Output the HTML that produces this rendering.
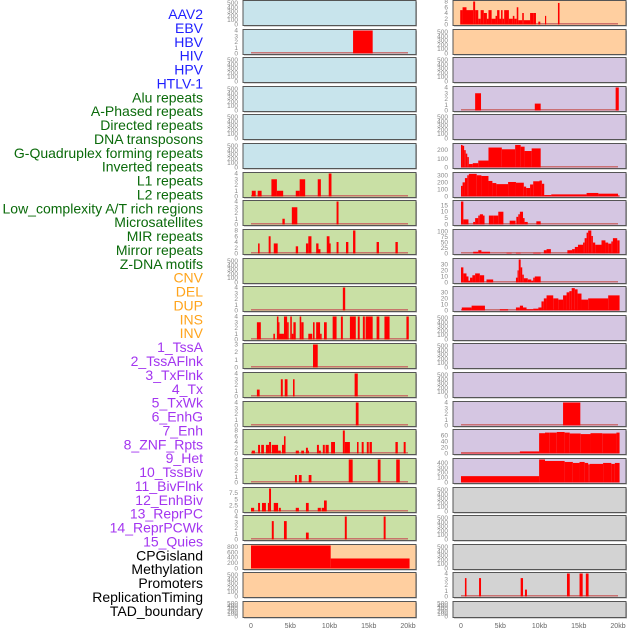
<!DOCTYPE html>
<html><head><meta charset="utf-8">
<style>
html,body{margin:0;padding:0;background:#fff;}
svg{display:block;font-family:"Liberation Sans",sans-serif;}
</style></head>
<body>
<svg id="chart" width="630" height="630" viewBox="0 0 630 630" xmlns="http://www.w3.org/2000/svg"></svg>
<script>
// ---- track labels ----
const trackLabels = ["AAV2","EBV","HBV","HIV","HPV","HTLV-1","Alu repeats","A-Phased repeats","Directed repeats","DNA transposons","G-Quadruplex forming repeats","Inverted repeats","L1 repeats","L2 repeats","Low_complexity A/T rich regions","Microsatellites","MIR repeats","Mirror repeats","Z-DNA motifs","CNV","DEL","DUP","INS","INV","1_TssA","2_TssAFlnk","3_TxFlnk","4_Tx","5_TxWk","6_EnhG","7_Enh","8_ZNF_Rpts","9_Het","10_TssBiv","11_BivFlnk","12_EnhBiv","13_ReprPC","14_ReprPCWk","15_Quies","CPGisland","Methylation","Promoters","ReplicationTiming","TAD_boundary"];
const labelGroups = ["v","v","v","v","v","v","r","r","r","r","r","r","r","r","r","r","r","r","r","s","s","s","s","s","c","c","c","c","c","c","c","c","c","c","c","c","c","c","c","o","o","o","o","o"];
const xTickValues = [0,5,10,15,20];
const xTickLabels = ["0","5kb","10kb","15kb","20kb"];
// ---- per-track data: [startKb, endKb, value] ----
const ebvBins = [[13.0,15.5,4]];
const aluBins = [[0.1,0.6,1],[0.85,1.35,1],[2.6,3.3,3],[3.3,4.1,1],[5.7,6.2,1],[6.2,6.9,3],[8.5,8.9,3],[9.9,10.25,4]];
const aphasedBins = [[4.0,4.3,1],[5.2,5.9,3],[10.9,11.15,4]];
const directedBins = [[0.9,1.1,3.5],[2.25,2.5,6],[2.9,3.4,3.5],[5.7,6.0,2.5],[7.0,7.3,3.5],[7.3,7.7,6],[8.3,8.6,3.5],[8.6,8.85,1.5],[9.65,10.0,6],[10.0,10.15,3.5],[10.9,11.15,4],[12.1,12.4,4],[13.0,13.3,8],[16.0,16.3,4],[18.4,18.7,4]];
const gquadBins = [[11.7,12.0,4]];
const invertedBins = [[0.75,1.25,3],[2.85,3.05,1],[3.3,3.5,4],[3.5,3.6,3],[3.6,4.2,1],[4.2,4.6,4],[4.6,4.8,3],[5.0,5.2,4],[5.2,5.4,1],[5.4,5.7,3],[6.2,6.4,4],[6.4,6.7,3],[7.3,7.8,1],[7.9,8.1,3],[8.3,8.8,3],[8.8,9.0,1],[9.3,9.65,3],[10.4,10.9,4],[11.45,11.7,4],[12.6,13.35,4],[13.6,13.85,4],[14.25,14.5,4],[14.6,15.5,4],[16.0,16.35,4],[17.0,17.65,4],[19.8,20.1,4]];
const l1Bins = [[7.9,8.5,3]];
const l2Bins = [[0.75,1.1,1.2],[3.8,4.05,3],[4.3,4.65,3],[5.35,5.55,3],[13.2,13.6,4]];
const lowcxBins = [[13.35,13.7,4]];
const microsatBins = [[0.1,0.5,1],[0.9,1.15,3],[1.3,1.65,3],[1.9,2.3,3],[2.3,2.55,4],[2.65,3.45,3],[3.45,3.8,1],[3.95,4.2,3],[4.2,4.4,6],[5.7,6.1,1],[6.4,6.75,1],[7.0,7.25,2],[7.25,7.35,1],[8.4,8.65,3],[8.65,8.9,1],[9.15,9.4,3],[9.5,9.9,3],[10.2,10.7,4],[11.7,11.95,8],[11.95,12.6,4],[13.5,13.7,4],[14.1,14.35,4],[14.75,15.0,4],[15.1,15.4,4],[18.4,18.7,4],[19.45,19.7,4]];
const mirBins = [[5.6,5.85,1.3],[6.1,6.45,1.3],[7.35,7.7,1.3],[12.45,12.95,4],[16.15,16.5,4],[18.5,18.95,4]];
const mirrorBins = [[0,0.4,1.5],[0.9,1.15,3.5],[1.4,1.9,3.5],[2.15,2.3,3.5],[2.3,2.55,9.4],[2.9,3.45,3.5],[3.55,3.8,1.5],[5.7,6.1,1.5],[7.0,7.35,3.5],[8.5,8.9,1.5],[9.0,9.3,1.5],[9.3,9.65,4.5]];
const zdnaBins = [[2.65,2.9,3.2],[4.2,4.55,3.2],[7.0,7.35,1.2],[11.95,12.2,4],[16.9,17.15,4]];
const cnvBins = [[0,10.15,850],[10.15,20.2,370]];
const insBins = [[-0.1,0.2,5],[0.2,0.7,6],[0.7,1.55,5],[1.55,1.8,8],[1.8,2.2,5],[2.2,2.5,2],[2.5,2.9,5],[2.9,3.3,4],[3.3,3.5,2],[3.5,3.9,5],[3.9,4.4,2],[4.4,4.6,3],[4.6,4.9,5],[4.9,5.1,2],[5.1,5.3,5],[5.3,5.5,2],[5.5,6.1,5],[6.1,6.6,2],[6.6,6.8,3],[6.8,7.1,2],[7.1,7.3,6],[7.3,7.8,1.5],[7.8,8.0,4],[8.0,8.8,1.5],[8.8,9.2,4],[9.2,9.55,4],[9.85,10.1,1],[10.7,10.85,3],[12.35,12.55,7.5]];
const tssaflnkBins = [[1.8,2.55,3],[9.4,10.15,1.2],[19.7,20.1,4]];
const txwkBins = [[0,0.2,260],[0.2,0.4,250],[0.4,0.6,200],[0.6,0.8,160],[0.8,1.0,120],[1.0,1.5,40],[1.5,2.2,50],[2.2,3.5,80],[3.5,5.2,230],[5.2,6.9,210],[6.9,7.6,260],[7.6,8.1,240],[8.1,9.0,190],[9.0,10.15,220]];
const enhgBins = [[0,0.2,150],[0.2,0.5,200],[0.5,0.8,260],[0.8,1.0,300],[1.0,2.0,320],[2.0,2.6,300],[2.6,3.5,290],[3.5,4.0,220],[4.0,4.5,190],[4.5,6.0,175],[6.0,7.0,205],[7.0,8.0,195],[8.0,8.3,140],[8.3,8.8,120],[8.8,9.2,170],[9.2,10.0,215],[10.0,10.3,225],[10.3,10.6,180],[10.6,11.5,20],[11.5,16.0,30],[16.0,17.5,50],[17.5,20.0,40],[20.0,20.2,15]];
const enhBins = [[0,0.3,18],[0.3,0.95,4],[1.55,1.8,2],[1.8,2.2,5],[2.2,2.4,7],[2.4,2.8,8],[2.8,3.0,7],[3.55,4.1,7],[4.1,4.75,7],[4.75,5.4,10],[6.2,6.95,3],[7.05,7.3,6],[7.3,7.5,8],[7.5,7.9,10],[7.9,8.1,5],[8.1,8.5,2],[9.6,10.15,2.5]];
const znfBins = [[1.55,2.2,8],[2.2,2.6,15],[2.6,3.7,8],[5.8,6.45,3],[7.0,7.6,3],[9.2,10.15,3],[10.55,10.9,15],[10.9,11.45,20],[13.55,14.15,15],[14.15,14.5,20],[14.5,14.9,30],[14.9,15.55,40],[15.55,15.75,50],[15.75,16.0,70],[16.0,16.2,95],[16.2,16.6,105],[16.6,16.8,80],[16.8,17.1,50],[17.1,17.9,40],[17.9,18.4,60],[18.4,18.75,50],[18.75,19.15,45],[19.15,19.35,55],[19.35,19.9,70],[19.9,20.2,60]];
const hetBins = [[0,0.3,25],[0.3,0.7,15],[0.7,0.95,10],[0.95,1.15,3],[1.15,1.45,8],[1.45,1.8,12],[1.8,2.4,15],[2.4,2.95,12],[3.25,4.1,5],[7.0,7.2,8],[7.2,7.35,20],[7.35,7.6,38],[7.6,7.8,25],[7.8,8.0,13],[8.0,8.5,7],[8.5,8.95,5],[8.95,9.2,3],[9.2,9.4,8],[9.4,10.15,10]];
const tssbivBins = [[0.1,1.35,5],[1.35,3.05,8],[4.95,6.0,2],[7.0,7.5,5],[7.5,7.9,8],[7.9,8.35,5],[8.35,9.2,2],[9.2,9.85,3],[9.85,10.25,5],[10.25,10.55,15],[10.55,10.9,20],[10.9,11.75,25],[11.75,12.4,20],[12.4,13.0,18],[13.0,13.45,25],[13.45,13.8,30],[13.8,14.1,32],[14.1,14.5,37],[14.5,14.85,35],[14.85,15.35,28],[15.35,16.2,18],[16.2,18.75,20],[18.75,20.2,25]];
const reprpcwkBins = [[13.0,15.2,4]];
const quiesBins = [[0,7.5,2],[7.5,9.95,7],[9.95,10.7,68],[10.7,11.3,70],[11.3,12.2,70],[12.2,13.2,72],[13.2,13.85,70],[13.85,15.25,67],[15.25,16.5,65],[16.5,18.0,68],[18.0,19.8,67],[19.8,20.2,70]];
const cpgBins = [[0,9.95,130],[9.95,10.7,470],[10.7,13.2,440],[13.2,14.25,420],[14.25,15.1,400],[15.1,15.75,420],[15.75,16.2,400],[16.2,16.4,370],[16.4,18.1,380],[18.1,19.15,400],[19.15,19.6,380],[19.6,20.2,400]];
const replicationBins = [[0.5,0.7,3.2],[2.3,2.55,3.2],[7.6,7.9,3.2],[8.15,8.4,1.2],[13.5,13.85,4],[15.1,15.5,4],[15.9,16.25,4]];
// y ticks
const ticksEmpty = [0,100,200,300,400,500];
const ticks4 = [0,1,2,3,4];
const ticks3 = [0,1,2,3];
const ticks8 = [0,2,4,6,8];
// ---- panel layout ----
const leftCol = [
 ["v",null,540,ticksEmpty],["v",ebvBins,4,ticks4],["v",null,540,ticksEmpty],["v",null,540,ticksEmpty],["v",null,540,ticksEmpty],["v",null,540,ticksEmpty],
 ["r",aluBins,4,ticks4],["r",aphasedBins,4,ticks4],["r",directedBins,8,ticks8],["r",null,540,ticksEmpty],["r",gquadBins,4,ticks4],["r",invertedBins,4,ticks4],
 ["r",l1Bins,3,ticks3],["r",l2Bins,4,ticks4],["r",lowcxBins,4,ticks4],["r",microsatBins,8,ticks8],["r",mirBins,4,ticks4],["r",mirrorBins,9.4,[0,2.5,5,7.5]],
 ["r",zdnaBins,4,ticks4],["s",cnvBins,850,[0,200,400,600,800]],["s",null,540,ticksEmpty],["s",null,540,ticksEmpty]];
const rightCol = [
 ["s",insBins,8,ticks8],["s",null,540,ticksEmpty],["c",null,540,ticksEmpty],["c",tssaflnkBins,4,ticks4],["c",null,540,ticksEmpty],["c",txwkBins,265,[0,100,200]],
 ["c",enhgBins,325,[0,100,200,300]],["c",enhBins,18,[0,5,10,15]],["c",znfBins,105,[0,25,50,75,100]],["c",hetBins,38,[0,10,20,30]],["c",tssbivBins,38,[0,10,20,30]],
 ["c",null,540,ticksEmpty],["c",null,540,ticksEmpty],["c",null,540,ticksEmpty],["c",reprpcwkBins,4,ticks4],["c",quiesBins,77,[0,20,40,60]],["c",cpgBins,470,[0,100,200,300,400]],
 ["o",null,540,ticksEmpty],["o",null,540,ticksEmpty],["o",null,540,ticksEmpty],["o",replicationBins,4,ticks4],["o",null,540,ticksEmpty]];

const NS="http://www.w3.org/2000/svg";
const svg=document.getElementById('chart');
const bgColors={v:"#c8e4ec",r:"#c9e0a5",s:"#ffcfa0",c:"#d5c6e2",o:"#d3d3d3"};
const labelColors={v:"#1f1fff",r:"#0a6a0a",s:"#ffa41c",c:"#a335f0",o:"#000000"};
function el(tag,attrs,parent){const e=document.createElementNS(NS,tag);for(const k in attrs)e.setAttribute(k,attrs[k]);(parent||svg).appendChild(e);return e;}
function rowTop(i){return Math.round(i*28.62);}
function rowH(i){return i<21?25:16;}
function xScale(col,kb){return (col===0?251:461)+kb*7.85;}

trackLabels.forEach((t,k)=>{
  const e=el('text',{x:203,y:(14+k*13.88+5).toFixed(1),'text-anchor':'end','font-size':'14',fill:labelColors[labelGroups[k]]});
  e.textContent=t;
  
  
});

function drawPanel(col,i,p){
  const [grp,bins,ymax,ticks]=p;
  const x0=col===0?243:453, w=173, top=rowTop(i)+0.5, h=rowH(i);
  const g=el('g',{});
  
  
  el('rect',{x:x0+1,y:top+1,width:w,height:h,fill:'#aaaaaa'},g);
  el('rect',{x:x0,y:top,width:w,height:h,fill:bgColors[grp],stroke:'#555',"stroke-width":1},g);
  const yBase=top+h-1, yTop=top+1;
  const yScale=v=>yBase-(v/ymax)*(yBase-yTop);
  ticks.forEach(t=>{
    const tx=el('text',{x:x0-5,y:(yScale(t)+2).toFixed(1),'text-anchor':'end','font-size':'6.5',fill:'#888'},g);
    tx.textContent=String(t);
    
    
  });
  if(bins){
    const bl=el('rect',{x:xScale(col,0),y:yBase-1.5,width:xScale(col,20)-xScale(col,0),height:1.5,fill:'#c86060',opacity:0.85},g);
    
    
    bins.forEach(b=>{
      const xa=xScale(col,b[0]), xb=xScale(col,b[1]), y=yScale(b[2]);
      const r=el('rect',{x:xa.toFixed(2),y:y.toFixed(2),width:Math.max(1,xb-xa).toFixed(2),height:(yBase-y).toFixed(2),fill:'#ff0000'},g);
      
      
    });
  }
}
leftCol.forEach((p,i)=>drawPanel(0,i,p));
rightCol.forEach((p,i)=>drawPanel(1,i,p));

[0,1].forEach(col=>{
  xTickValues.forEach((v,j)=>{
    const t=el('text',{x:xScale(col,v),y:628,'text-anchor':'middle','font-size':'7',fill:'#666'});
    t.textContent=xTickLabels[j];
    
    
  });
});
</script>
</body></html>
